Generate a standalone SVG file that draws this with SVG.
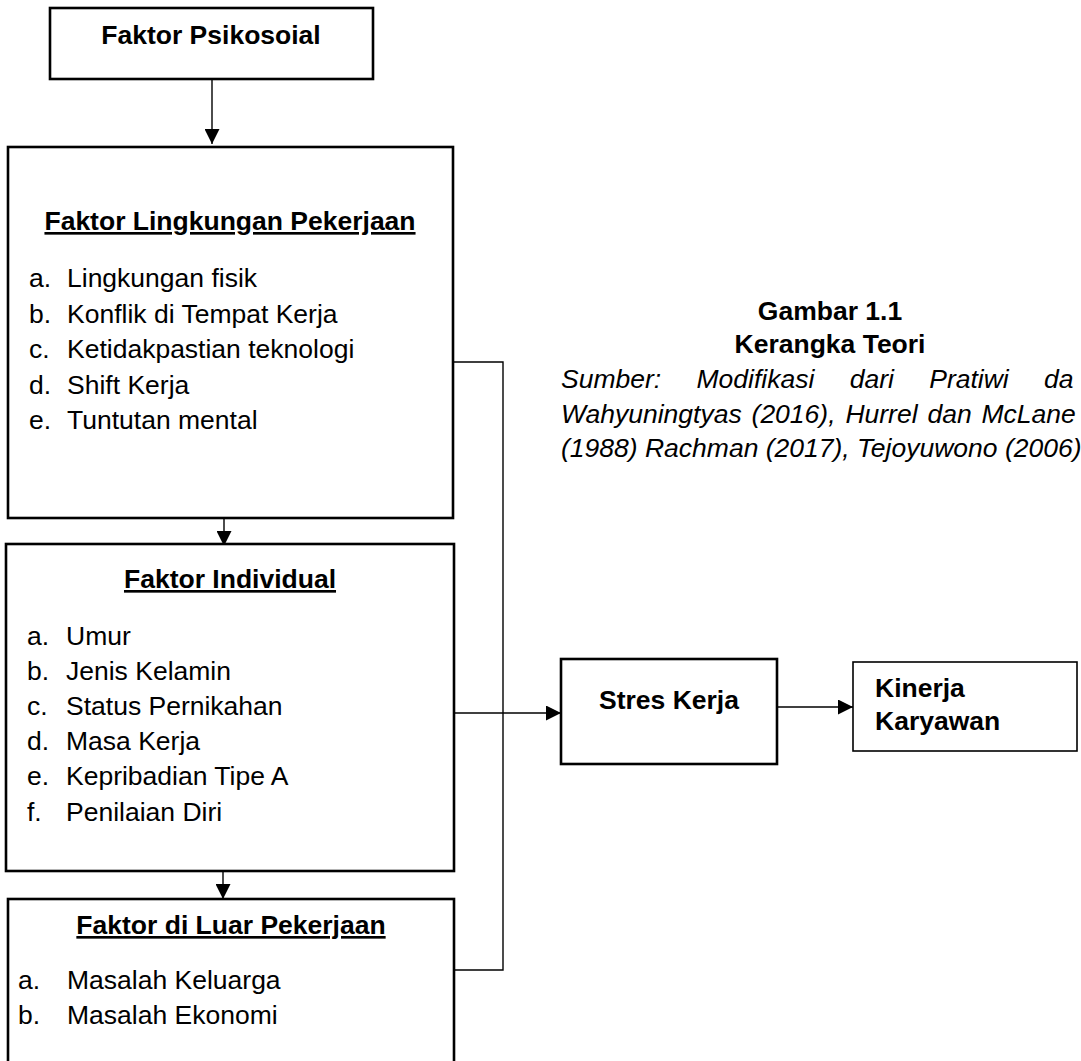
<svg xmlns="http://www.w3.org/2000/svg" width="1081" height="1061" viewBox="0 0 1081 1061">
<style>
text{font-family:"Liberation Sans",Arial,sans-serif;font-size:26.5px;fill:#000}
.b{font-weight:bold}
.u{text-decoration:underline}
.it{font-style:italic}
.box{fill:#fff;stroke:#000;stroke-width:2.6}
.thin{fill:#fff;stroke:#000;stroke-width:1.6}
.ln{fill:none;stroke:#000;stroke-width:1.4}
</style>
<defs>
<marker id="ah" markerUnits="userSpaceOnUse" markerWidth="15" markerHeight="15" refX="15" refY="7.5" orient="auto">
<path d="M0,0 L15,7.5 L0,15 z" fill="#000"/>
</marker>
</defs>
<rect width="1081" height="1061" fill="#fff"/>

<g id="connectors">
<line class="ln" x1="212" y1="79" x2="212" y2="144" marker-end="url(#ah)"/>
<line class="ln" x1="224" y1="518" x2="224" y2="546" marker-end="url(#ah)"/>
<line class="ln" x1="223" y1="871" x2="223" y2="899" marker-end="url(#ah)"/>
<polyline class="ln" points="453,362 503,362 503,970 454,970"/>
<line class="ln" x1="454" y1="713" x2="561" y2="713" marker-end="url(#ah)"/>
<line class="ln" x1="777" y1="707" x2="853" y2="707" marker-end="url(#ah)"/>
</g>

<g id="faktor-psikosoial">
<rect class="box" x="50" y="8" width="323" height="71"/>
<text class="b" x="211" y="44" text-anchor="middle">Faktor Psikosoial</text>
</g>

<g id="faktor-lingkungan">
<rect class="box" x="8" y="147" width="445" height="371"/>
<text class="b u" x="230" y="230" text-anchor="middle">Faktor Lingkungan Pekerjaan</text>
<text x="29" y="287">a.</text><text x="67" y="287">Lingkungan fisik</text>
<text x="29" y="323">b.</text><text x="67" y="323">Konflik di Tempat Kerja</text>
<text x="29" y="358">c.</text><text x="67" y="358">Ketidakpastian teknologi</text>
<text x="29" y="394">d.</text><text x="67" y="394">Shift Kerja</text>
<text x="29" y="429">e.</text><text x="67" y="429">Tuntutan mental</text>
</g>

<g id="faktor-individual">
<rect class="box" x="6" y="544" width="448" height="327"/>
<text class="b u" x="230" y="588" text-anchor="middle">Faktor Individual</text>
<text x="27" y="645">a.</text><text x="66" y="645">Umur</text>
<text x="27" y="680">b.</text><text x="66" y="680">Jenis Kelamin</text>
<text x="27" y="715">c.</text><text x="66" y="715">Status Pernikahan</text>
<text x="27" y="750">d.</text><text x="66" y="750">Masa Kerja</text>
<text x="27" y="785">e.</text><text x="66" y="785">Kepribadian Tipe A</text>
<text x="27" y="821">f.</text><text x="66" y="821">Penilaian Diri</text>
</g>

<g id="faktor-luar">
<rect class="box" x="8" y="899" width="446" height="180"/>
<text class="b u" x="231" y="934" text-anchor="middle">Faktor di Luar Pekerjaan</text>
<text x="18" y="989">a.</text><text x="67" y="989">Masalah Keluarga</text>
<text x="18" y="1024">b.</text><text x="67" y="1024">Masalah Ekonomi</text>
</g>

<g id="stres-kerja">
<rect class="box" x="561" y="659" width="216" height="105"/>
<text class="b" x="669" y="709" text-anchor="middle">Stres Kerja</text>
</g>

<g id="kinerja-karyawan">
<rect class="thin" x="853" y="662" width="224" height="89"/>
<text class="b" x="875" y="697">Kinerja</text>
<text class="b" x="875" y="730">Karyawan</text>
</g>

<g id="caption">
<text class="b" x="830" y="320" text-anchor="middle">Gambar 1.1</text>
<text class="b" x="830" y="353" text-anchor="middle">Kerangka Teori</text>
<text class="it" x="561" y="388" word-spacing="28">Sumber: Modifikasi dari Pratiwi da</text>
<text class="it" x="561" y="423" word-spacing="2.5">Wahyuningtyas (2016), Hurrel dan McLane</text>
<text class="it" x="561" y="457">(1988) Rachman (2017), Tejoyuwono (2006)</text>
</g>
</svg>
